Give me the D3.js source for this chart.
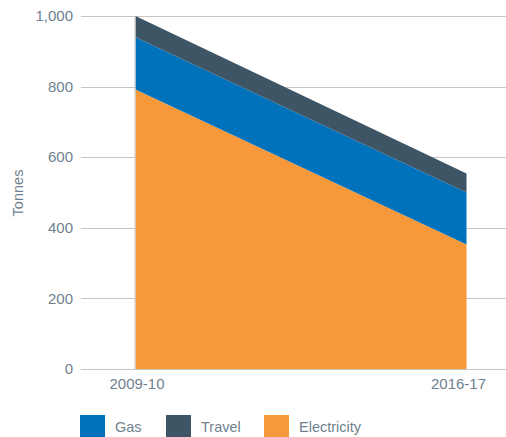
<!DOCTYPE html>
<html>
<head>
<meta charset="utf-8">
<script src="https://cdn.jsdelivr.net/npm/d3@7"></script>
<style>
  body { margin: 0; background: #fff; }
  text { font-family: "Liberation Sans", Arial, sans-serif; fill: #6f818e; }
</style>
</head>
<body>
<svg id="chart" width="506" height="437"></svg>
<script>
// Emissions by source, tonnes
const years = ["2009-10", "2016-17"];
const electricity = [792, 353];
const gas = [148, 147];
const travel = [60, 54];
const yTicks = [0, 200, 400, 600, 800, 1000];
const seriesNames = ["Electricity", "Gas", "Travel"];
const colors = { Electricity: "#f7993a", Gas: "#0072bc", Travel: "#3e5566" };
const legendOrder = ["Gas", "Travel", "Electricity"];

const rows = years.map((yr, i) => ({
  year: yr, Electricity: electricity[i], Gas: gas[i], Travel: travel[i]
}));

const svg = d3.select("#chart");
const gridLeft = 81, gridRight = 506;

const x = d3.scalePoint().domain(years).range([135.5, 466.5]);
const y = d3.scaleLinear().domain([0, 1000]).range([369, 16]);

// gridlines and y labels
const yAxis = svg.append("g");
yAxis.selectAll("line").data(yTicks).join("line")
  .attr("x1", gridLeft).attr("x2", gridRight)
  .attr("y1", d => Math.round(y(d)) + 0.5).attr("y2", d => Math.round(y(d)) + 0.5)
  .attr("stroke", "#c6c6c6").attr("stroke-width", 1.2);
yAxis.selectAll("text").data(yTicks).join("text")
  .attr("x", 73).attr("y", d => y(d)).attr("dy", "0.35em")
  .attr("text-anchor", "end").attr("font-size", 15)
  .text(d => d3.format(",")(d));

// stacked areas
const stack = d3.stack().keys(seriesNames);
const layers = stack(rows);
const area = d3.area()
  .x(d => x(d.data.year))
  .y0(d => y(d[0]))
  .y1(d => y(d[1]));

svg.append("g").selectAll("path").data(layers).join("path")
  .attr("d", area)
  .attr("fill", d => colors[d.key]);

// vertical rule at the first year
svg.append("line")
  .attr("x1", x(years[0]) - 0.5).attr("x2", x(years[0]) - 0.5)
  .attr("y1", y(1000)).attr("y2", y(0))
  .attr("stroke", "#c6c6c6").attr("stroke-width", 1);

// x labels
const xLabelShift = [1.5, -8];
svg.append("g").selectAll("text").data(years).join("text")
  .attr("x", (d, i) => x(d) + xLabelShift[i]).attr("y", 388.5)
  .attr("text-anchor", "middle").attr("font-size", 15)
  .text(d => d);

// y title
svg.append("text")
  .attr("transform", "translate(23,193) rotate(-90)")
  .attr("text-anchor", "middle").attr("font-size", 14.5)
  .text("Tonnes");

// legend
const legendX = { Gas: 80, Travel: 166, Electricity: 264 };
const lg = svg.append("g").selectAll("g").data(legendOrder).join("g")
  .attr("transform", d => `translate(${legendX[d]},415)`);
lg.append("rect").attr("width", 25).attr("height", 25).attr("fill", d => colors[d]);
lg.append("text").attr("x", 35).attr("y", 12).attr("dy", "0.35em")
  .attr("font-size", 14.5).text(d => d);
</script>
</body>
</html>
